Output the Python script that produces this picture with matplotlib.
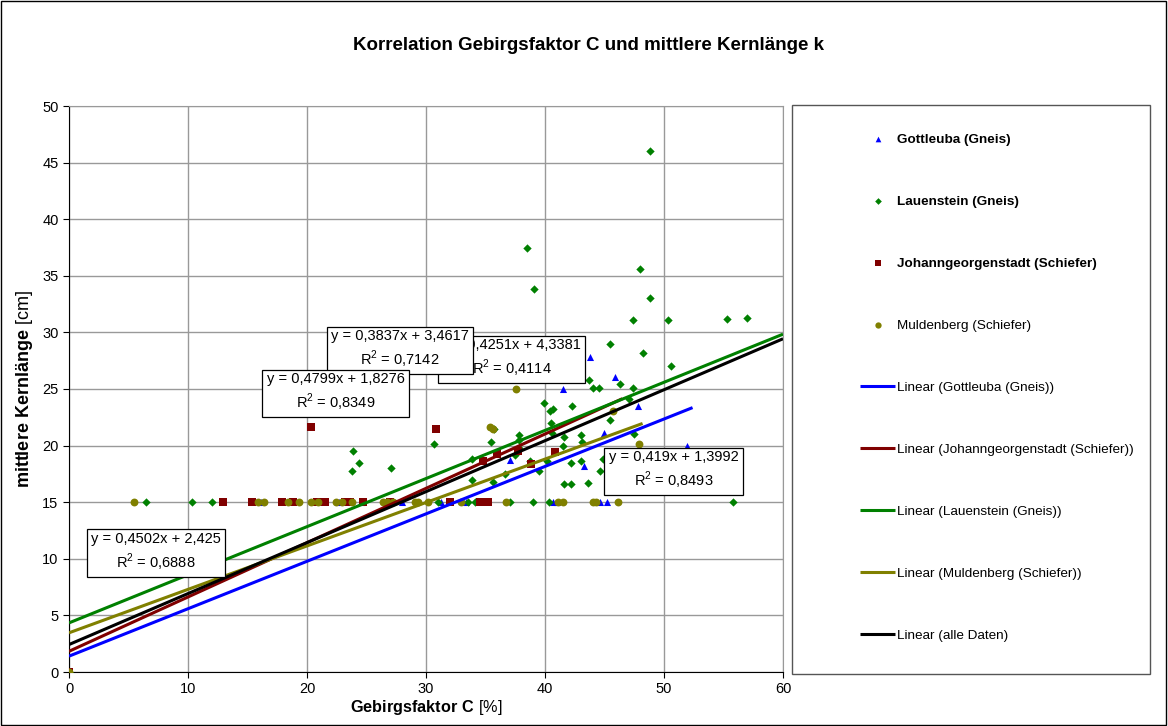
import matplotlib
matplotlib.use("Agg")
import matplotlib.pyplot as plt
from matplotlib.patches import Rectangle
import numpy as np

plt.rcParams["font.family"] = ["Liberation Sans", "DejaVu Sans"]
plt.rcParams["mathtext.fontset"] = "custom"
plt.rcParams["mathtext.rm"] = "Liberation Sans"
plt.rcParams["mathtext.bf"] = "Liberation Sans:bold"

# Gottleuba (Gneis)
gott_x = [0, 16.1, 22.7, 24.5, 28.0, 31.3, 33.4, 41.0, 40.7, 44.6, 45.2,
          43.8, 45.9, 41.5, 47.8, 45.0, 43.3, 51.9, 37.1]
gott_y = [0, 15, 15, 15, 15, 15, 15, 15, 15, 15, 15,
          27.8, 26.1, 25.0, 23.5, 21.1, 18.2, 20.0, 18.7]

# Lauenstein (Gneis)
lau_x = [0, 6.5, 10.3, 12.0, 31.0, 33.5, 34.1, 37.1, 39.0, 40.3, 55.8,
         48.8, 38.5, 39.1, 48.0, 48.8, 47.4, 50.3, 55.3, 57.0, 45.5, 48.2, 50.6,
         43.7, 44.0, 44.5, 46.3, 47.4, 47.1, 42.3, 45.5, 47.5, 41.6, 43.0, 43.1,
         41.5, 42.2, 43.0, 44.6, 39.9, 40.4, 40.7, 35.7, 30.7, 35.5, 37.8, 37.8,
         40.5, 40.6, 37.8, 38.7, 39.5, 40.2, 41.6, 42.2, 43.6, 44.9, 33.9, 33.9,
         23.9, 24.4, 23.8, 27.1, 37.5, 35.6, 36.6]
lau_y = [0, 15, 15, 15, 15, 15, 15, 15, 15, 15, 15,
         46.0, 37.5, 33.8, 35.6, 33.0, 31.1, 31.1, 31.2, 31.3, 29.0, 28.2, 27.0,
         25.8, 25.1, 25.1, 25.4, 25.1, 24.1, 23.5, 22.3, 21.0, 20.8, 20.9, 20.3,
         20.0, 18.5, 18.6, 17.8, 23.8, 23.1, 23.2, 21.5, 20.1, 20.3, 20.9, 20.5,
         22.0, 21.1, 19.8, 18.6, 17.8, 18.6, 16.6, 16.6, 16.7, 18.8, 18.8, 17.0,
         19.5, 18.5, 17.8, 18.0, 19.2, 16.8, 17.5]

# Johanngeorgenstadt (Schiefer)
joh_x = [0, 12.9, 15.4, 17.9, 18.8, 20.8, 21.5, 23.2, 23.6, 24.7, 27.0, 32.0, 34.5, 35.2,
         20.3, 30.8, 37.7, 40.8, 34.8, 36.0, 38.8]
joh_y = [0, 15, 15, 15, 15, 15, 15, 15, 15, 15, 15, 15, 15, 15,
         21.6, 21.5, 19.5, 19.4, 18.6, 19.3, 18.4]

# Muldenberg (Schiefer)
mul_x = [0, 5.5, 15.9, 16.4, 18.4, 19.3, 20.3, 20.9, 22.4, 22.9, 23.8, 26.4, 26.7, 27.2,
         29.1, 29.3, 30.2, 32.9, 36.7, 41.1, 41.5, 44.0, 44.3, 46.1,
         37.6, 35.4, 35.6, 45.7, 47.9]
mul_y = [0, 15, 15, 15, 15, 15, 15, 15, 15, 15, 15, 15, 15, 15,
         15, 15, 15, 15, 15, 15, 15, 15, 15, 15,
         25.0, 21.6, 21.5, 23.1, 20.1]

# trend lines: label, slope, intercept, r2, x end
trend_names = ["Linear (Gottleuba (Gneis))", "Linear (Johanngeorgenstadt (Schiefer))",
               "Linear (Lauenstein (Gneis))", "Linear (Muldenberg (Schiefer))",
               "Linear (alle Daten)"]
trend_slope = [0.419, 0.4799, 0.4251, 0.3837, 0.4502]
trend_icpt = [1.3992, 1.8276, 4.3381, 3.4617, 2.425]
trend_r2 = ["0,8493", "0,8349", "0,4114", "0,7142", "0,6888"]
trend_eq = ["y = 0,419x + 1,3992", "y = 0,4799x + 1,8276", "y = 0,4251x + 4,3381",
            "y = 0,3837x + 3,4617", "y = 0,4502x + 2,425"]
trend_xend = [52.4, 46.5, 60, 48.2, 60]
trend_colors = ["#0000ff", "#800000", "#008000", "#808000", "#000000"]
# where the equation boxes sit (data coords) and their stacking
eq_pos = [(50.8, 17.8), (22.4, 24.7), (37.2, 27.7), (27.8, 28.5), (7.3, 10.6)]
eq_z = [6, 9, 7, 8, 6]

fig = plt.figure(figsize=(11.68, 7.26), dpi=100)
fig.patches.append(Rectangle((0.001, 0.002), 0.997, 0.996, transform=fig.transFigure,
                             fill=False, edgecolor="black", linewidth=1.0))
ax = fig.add_axes([69 / 1168, 1 - 672 / 726, (783 - 69) / 1168, (672 - 106) / 726])

h1 = ax.scatter(gott_x, gott_y, marker="^", s=26, color="#0000ff", zorder=3,
                label="Gottleuba (Gneis)", linewidths=0)
h2 = ax.scatter(lau_x, lau_y, marker="D", s=18, color="#008000", zorder=3,
                label="Lauenstein (Gneis)", linewidths=0)
h3 = ax.scatter(joh_x, joh_y, marker="s", s=30, color="#800000", zorder=3,
                label="Johanngeorgenstadt (Schiefer)", linewidths=0)
h4 = ax.scatter(mul_x, mul_y, marker="o", s=32, color="#808000", zorder=3,
                label="Muldenberg (Schiefer)", linewidths=0)

line_handles = []
for name, m, b, xe, c in zip(trend_names, trend_slope, trend_icpt, trend_xend, trend_colors):
    xs = np.array([0, xe])
    ln, = ax.plot(xs, m * xs + b, color=c, linewidth=2.2, label=name, zorder=4,
                  solid_capstyle="butt")
    line_handles.append(ln)

for eq, r2, (px, py), z in zip(trend_eq, trend_r2, eq_pos, eq_z):
    ax.text(px, py, eq + "\n" + r"R$^2$ = " + r2, ha="center", va="center",
            fontsize=10.5, linespacing=1.35, zorder=z,
            bbox=dict(boxstyle="square,pad=0.3", facecolor="white", edgecolor="black",
                      linewidth=0.9))

ax.set_xlim(0, 60)
ax.set_ylim(0, 50)
ax.set_xticks(range(0, 61, 10))
ax.set_yticks(range(0, 51, 5))
ax.tick_params(labelsize=10.5, length=4, direction="out", width=0.8)
ax.grid(True, color="#999999", linewidth=1.0)
ax.set_axisbelow(True)
for side in ["top", "right"]:
    ax.spines[side].set_color("#999999")
ax.spines["left"].set_color("black")
ax.spines["bottom"].set_color("black")

ax.set_xlabel(r"$\bf{Gebirgsfaktor\ C}$ [%]", fontsize=11.7, labelpad=1)
ax.set_ylabel(r"$\bf{mittlere\ Kernlänge}$ [cm]", fontsize=13, labelpad=5)

fig.text(0.504, 1 - 46 / 726, "Korrelation Gebirgsfaktor C und mittlere Kernlänge k",
         ha="center", va="center", fontsize=13.5, fontweight="bold")

# legend box
fig.patches.append(Rectangle((792 / 1168, 1 - 674 / 726), (1150 - 792) / 1168, (674 - 105) / 726,
                             transform=fig.transFigure, fill=False, edgecolor="#555555",
                             linewidth=1.0))
handles = [h1, h2, h3, h4] + line_handles
leg = fig.legend(handles=handles, loc="upper left", bbox_to_anchor=(855 / 1168, 1 - 128 / 726),
                 frameon=False, fontsize=9.7, labelspacing=3.68, handlelength=2.6,
                 handletextpad=0.15, borderaxespad=0, markerscale=0.8)
for t in leg.get_texts()[:3]:
    t.set_fontweight("bold")

fig.savefig("out.png", dpi=100)
